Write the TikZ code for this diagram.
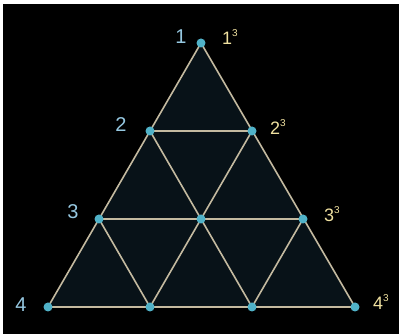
\documentclass[tikz,border=0pt]{standalone}
\usepackage{fontspec}
\setmainfont{Liberation Sans}
\definecolor{gridline}{RGB}{196,186,160}
\definecolor{dotcol}{RGB}{80,178,200}
\definecolor{leftlab}{RGB}{150,200,225}
\definecolor{rightlab}{RGB}{240,225,160}
\definecolor{inner}{RGB}{8,18,24}
\newcommand{\cubed}{\raisebox{0.42em}{\fontsize{10}{12}\selectfont 3}}
\begin{document}
\begin{tikzpicture}[
        x=1pt, y=-1pt,
        dot/.style={circle, fill=dotcol, inner sep=0pt, minimum size=9pt},
        edge/.style={draw=gridline, line width=1.6pt},
        leftnum/.style={text=leftlab, font=\fontsize{20}{24}\selectfont, inner sep=0pt},
        rightnum/.style={text=rightlab, font=\fontsize{18}{22}\selectfont, inner sep=0pt}
    ]

    % Frame: white margin with black field
    \fill[white] (0,0) rectangle (402,336);
    \useasboundingbox (0,0) rectangle (402,336);
    \fill[black] (3,4) rectangle (399,334);

    % Lattice points
    \coordinate (p1) at (201,43);
    \coordinate (p21) at (150,131);
    \coordinate (p22) at (252,131);
    \coordinate (p31) at (99,219);
    \coordinate (p32) at (201,219);
    \coordinate (p33) at (303,219);
    \coordinate (p41) at (48,307);
    \coordinate (p42) at (150,307);
    \coordinate (p43) at (252,307);
    \coordinate (p44) at (355,307);

    % Dark inside of the triangle
    \fill[inner] (p1) -- (p41) -- (p44) -- cycle;

    % Horizontal rows
    \draw[edge] (p21) -- (p22);
    \draw[edge] (p31) -- (p33);
    \draw[edge] (p41) -- (p44);
    % Edges falling to the left
    \draw[edge] (p1) -- (p41);
    \draw[edge] (p22) -- (p42);
    \draw[edge] (p33) -- (p43);
    % Edges falling to the right
    \draw[edge] (p1) -- (p44);
    \draw[edge] (p21) -- (p43);
    \draw[edge] (p31) -- (p42);

    % Dots on top of the lines
    \foreach \p in {p1,p21,p22,p31,p32,p33,p41,p42,p43,p44}
        \node[dot] (d\p) at (\p) {};

    % Row numbers (left) and cubes (right)
    \node[leftnum] (n1) at (181,37) {1};
    \node[leftnum] (n2) at (121,125) {2};
    \node[leftnum] (n3) at (73,212) {3};
    \node[leftnum] (n4) at (21,305) {4};
    \node[rightnum] (c1) at (230,37) {1\cubed};
    \node[rightnum] (c2) at (278,127) {2\cubed};
    \node[rightnum] (c3) at (332,214) {3\cubed};
    \node[rightnum] (c4) at (381,302) {4\cubed};

\end{tikzpicture}
\end{document}
